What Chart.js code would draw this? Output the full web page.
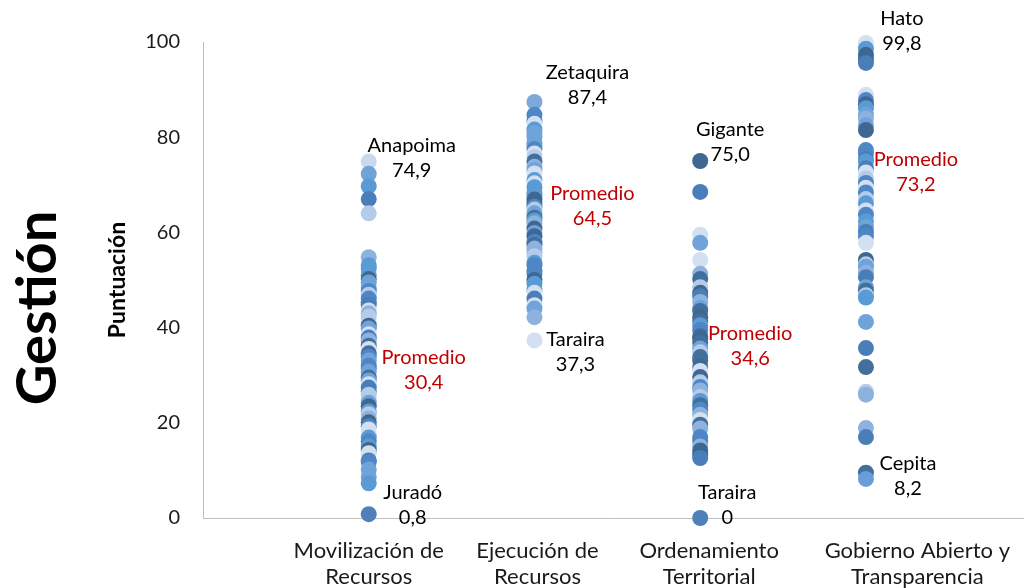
<!DOCTYPE html>
<html>
<head>
<meta charset="utf-8">
<script src="https://cdn.jsdelivr.net/npm/chart.js@4.4.1/dist/chart.umd.min.js"></script>
<style>
	html, body { margin: 0; padding: 0; background: #fff; }
	#wrap { width: 1030px; height: 588px; }
</style>
</head>
<body>
<div id="wrap"><canvas id="gestionChart"></canvas></div>
<script>
// categorias del eje x
var categories = [
	['Movilización de', 'Recursos'],
	['Ejecución de', 'Recursos'],
	['Ordenamiento', 'Territorial'],
	['Gobierno Abierto y', 'Transparencia'],
];

// puntajes por municipio
var movilizacion = [74.9, 72.3, 69.7, 67.0, 64.0, 54.8, 53.1, 52.4, 51.0, 50.2, 49.5, 48.3, 47.7, 46.9,
	46.1, 45.3, 44.8, 43.6, 43.0, 42.3, 41.1, 40.4, 39.8, 38.6, 37.9, 37.3, 36.2, 35.5, 34.6, 33.9,
	33.1, 32.0, 31.4, 30.7, 29.5, 28.9, 28.1, 27.4, 26.6, 25.9, 24.8, 24.2, 23.5, 22.4, 21.8, 20.9,
	20.1, 19.3, 18.6, 17.4, 16.9, 16.1, 15.0, 14.3, 13.6, 12.1, 11.8, 10.2, 8.6, 7.3, 0.8];
var ejecucion = [87.4, 84.7, 83.4, 82.8, 81.6, 80.9, 80.1, 78.8, 78.2, 77.5, 76.6, 75.8, 74.9, 73.8,
	73.1, 72.4, 71.0, 70.3, 69.5, 68.3, 67.8, 66.9, 66.2, 65.4, 64.8, 64.0, 63.1, 62.5, 61.9, 60.8,
	59.9, 59.2, 58.0, 57.4, 56.6, 55.7, 55.0, 53.6, 53.1, 52.0, 51.3, 50.0, 49.2, 47.9, 47.3, 46.1,
	44.7, 44.0, 42.2, 37.3];
var ordenamiento = [75.0, 68.5, 59.5, 57.8, 54.2, 51.3, 50.2, 48.5, 47.3, 46.6, 45.4, 44.1, 43.5,
	42.2, 41.3, 40.5, 39.5, 38.2, 37.7, 36.8, 35.6, 34.8, 33.8, 33.1, 31.7, 30.9, 29.6, 28.5, 27.5,
	26.8, 25.4, 24.6, 23.7, 22.8, 21.7, 20.6, 19.6, 18.8, 17.0, 16.2, 15.0, 14.2, 13.3, 12.6, 0];
var gobierno = [99.8, 98.6, 97.3, 96.4, 95.6, 88.9, 87.8, 86.9, 86.1, 84.7, 83.9, 82.5, 81.5, 77.3,
	76.6, 75.4, 74.9, 73.5, 72.6, 71.3, 70.4, 69.4, 68.4, 67.0, 66.1, 64.6, 63.7, 62.3, 61.2, 60.1,
	59.2, 57.8, 54.2, 53.3, 52.8, 51.5, 50.6, 48.5, 47.8, 46.8, 46.3, 41.2, 35.7, 31.7, 26.5, 25.9,
	18.9, 17.0, 9.5, 8.2];

var maxNames = ['Anapoima', 'Zetaquira', 'Gigante', 'Hato'];
var maxValues = [74.9, 87.4, 75.0, 99.8];
var minNames = ['Juradó', 'Taraira', 'Taraira', 'Cepita'];
var minValues = [0.8, 37.3, 0, 8.2];
var means = [30.4, 64.5, 34.6, 73.2];
var yTicks = [0, 20, 40, 60, 80, 100];

var series = [movilizacion, ejecucion, ordenamiento, gobierno];

// estilos
var palette = ['#3E6892', '#436F9C', '#4A7EB8', '#4F86C6', '#5B9BD5', '#6FA3D9', '#8DB2DE', '#B4CCEA', '#D2E0F2'];
var maxColors = ['#C9D9EE', '#7FA8DA', '#3E6892', '#D2E0F2'];
var minColors = ['#4E81B9', '#D2E0F2', '#4E81B9', '#6A9ED8'];
var labelShift = [0, 0.018, 0.054, 0.31];
var maxOffsets = [[43, -16], [53, -29], [30, -31], [36, -24]];
var minOffsets = [[44, -22], [41, -1], [27, -25], [42, -15]];
var meanOffsets = [[55, -16], [58, -17], [50, -20], [50, -10]];

function fmt(v) {
	return v === 0 ? '0' : v.toFixed(1).replace('.', ',');
}

function pointColor(ctx) {
	var vals = series[ctx.datasetIndex];
	var v = vals[ctx.dataIndex];
	if (v === maxValues[ctx.datasetIndex]) return maxColors[ctx.datasetIndex];
	if (v === minValues[ctx.datasetIndex]) return minColors[ctx.datasetIndex];
	var h = Math.sin((ctx.dataIndex + 1) * 12.9898 + (ctx.datasetIndex + 1) * 78.233) * 43758.5453;
	var k = Math.floor((h - Math.floor(h)) * palette.length);
	return palette[k];
}

var annotations = [];
for (var i = 0; i < categories.length; i++) {
	annotations.push({cat: i, value: maxValues[i], lines: [maxNames[i], fmt(maxValues[i])], color: '#000', off: maxOffsets[i]});
	annotations.push({cat: i, value: minValues[i], lines: [minNames[i], fmt(minValues[i])], color: '#000', off: minOffsets[i]});
	annotations.push({cat: i, value: means[i], lines: ['Promedio', fmt(means[i])], color: '#C00000', off: meanOffsets[i]});
}

var labelPlugin = {
	id: 'pointLabels',
	afterDatasetsDraw: function (chart) {
		var ctx = chart.ctx;
		var xs = chart.scales.x;
		var ys = chart.scales.y;
		ctx.save();
		ctx.font = '20px Lato';
		ctx.textAlign = 'center';
		ctx.textBaseline = 'middle';
		annotations.forEach(function (a) {
			var px = xs.getPixelForValue(a.cat + 1) + a.off[0];
			var py = ys.getPixelForValue(a.value) + a.off[1];
			ctx.fillStyle = a.color;
			a.lines.forEach(function (t, j) {
				ctx.fillText(t, px, py + j * 25);
			});
		});
		ctx.restore();
	},
};

Chart.defaults.font.family = 'Lato';
Chart.defaults.color = '#262626';

var gestionChart = new Chart(document.getElementById('gestionChart'), {
	type: 'scatter',
	data: {
		datasets: series.map(function (vals, i) {
			return {
				label: categories[i].join(' '),
				data: vals.map(function (v) { return {x: i + 1, y: v}; }),
				backgroundColor: pointColor,
				borderWidth: 0,
				pointRadius: 8,
				pointHoverRadius: 8,
				clip: false,
			};
		}),
	},
	options: {
		responsive: true,
		maintainAspectRatio: false,
		animation: false,
		layout: {
			autoPadding: false,
			padding: {top: 28, right: -8, bottom: 0, left: 0},
		},
		scales: {
			x: {
				type: 'linear',
				min: 0,
				max: 4.95,
				afterBuildTicks: function (scale) {
					scale.ticks = categories.map(function (c, i) { return {value: i + 1 + labelShift[i]}; });
				},
				afterFit: function (scale) {
					scale.height = 70;
				},
				ticks: {
					autoSkip: false,
					maxRotation: 0,
					padding: 20,
					color: '#1a1a1a',
					font: {size: 22, lineHeight: 1.18},
					callback: function (value, index) {
						return categories[index];
					},
				},
				grid: {display: false, drawTicks: false},
				border: {color: '#BFBFBF', width: 1},
			},
			y: {
				min: 0,
				max: 100,
				afterBuildTicks: function (scale) {
					scale.ticks = yTicks.map(function (v) { return {value: v}; });
				},
				afterFit: function (scale) {
					scale.width = 129;
				},
				ticks: {
					padding: 23,
					color: '#1a1a1a',
					font: {size: 20},
				},
				grid: {display: false, drawTicks: false},
				border: {color: '#BFBFBF', width: 1},
				title: {
					display: true,
					text: 'Puntuación',
					color: '#000',
					font: {size: 23, weight: 'bold', lineHeight: 1.2},
					padding: {top: 30, bottom: 0},
				},
			},
		},
		plugins: {
			legend: {display: false},
			tooltip: {enabled: false},
			title: {
				display: true,
				text: 'Gestión',
				position: 'left',
				color: '#000',
				font: {size: 56, weight: 'bold', lineHeight: 1},
				padding: {top: 10, bottom: 8},
			},
			// franja vacia arriba para bajar el area del grafico
			subtitle: {
				display: true,
				text: '',
				position: 'top',
				font: {size: 14, lineHeight: 1},
				padding: 0,
			},
		},
	},
	plugins: [labelPlugin],
});
</script>
</body>
</html>
